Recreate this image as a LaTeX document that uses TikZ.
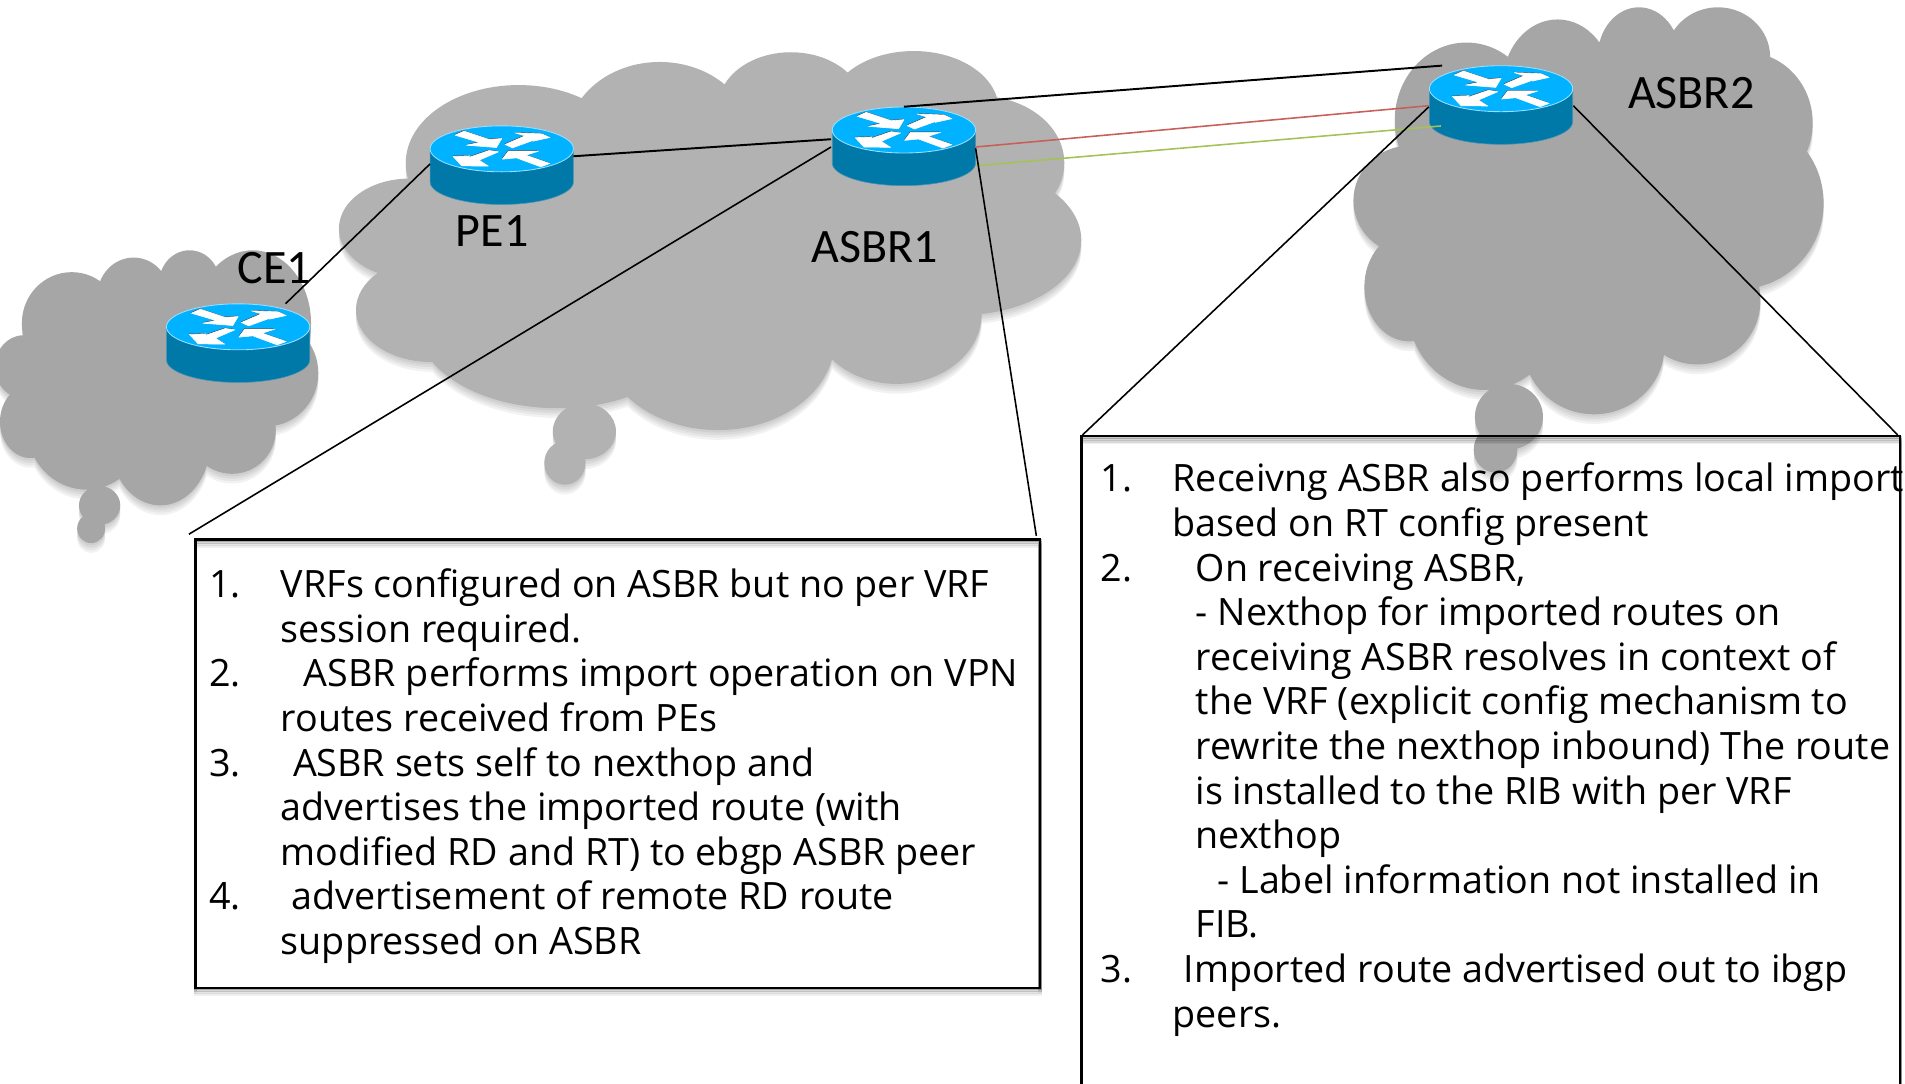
\documentclass[tikz,border=0pt]{standalone}
\usepackage{fontspec}
\usetikzlibrary{calc}
\setmainfont{Carlito}
\newfontfamily\notefont{Open Sans}
\definecolor{cloudA}{HTML}{A6A6A6}
\definecolor{cloudB}{HTML}{B2B2B2}
\definecolor{rtop}{HTML}{00B2FF}
\definecolor{rside}{HTML}{0078A8}
\definecolor{redlink}{HTML}{C8605A}
\definecolor{greenlink}{HTML}{A4C257}
\tikzset{
  link/.style={black,line width=1.3pt},
  routernode/.style={inner sep=0pt,minimum width=118pt,minimum height=64.7pt},
  notebox/.style={draw=black,line width=2pt,inner sep=0pt},
  notetext/.style={anchor=north west,inner sep=0pt,align=left,font={\notefont\fontsize{31}{36.7}\selectfont}},
  routerlabel/.style={inner sep=0pt,font={\fontsize{39.5}{39.5}\selectfont}},
}
\newcommand{\nm}[1]{\makebox[59pt][l]{#1}}
\newcommand{\ind}[1]{\hspace*{#1pt}}
\def\cloudL{
 (59,266) ellipse [x radius=41,y radius=42]
 (110,244) ellipse [x radius=30,y radius=32]
 (156,233) ellipse [x radius=25,y radius=27]
 (208,266) ellipse [x radius=48,y radius=60]
 (219,307) ellipse [x radius=43,y radius=44]
 (191,354) ellipse [x radius=36,y radius=36]
 (132,365) ellipse [x radius=41,y radius=51]
 (71,351) ellipse [x radius=49,y radius=52]
 (25,347) ellipse [x radius=25,y radius=30]
 (19,302) ellipse [x radius=23,y radius=26]
 (132,307) ellipse [x radius=96,y radius=69]
 (82,416) ellipse [x radius=17,y radius=16]
 (75,435) ellipse [x radius=11.5,y radius=12]
}
\def\cloudM{
 (427,134) ellipse [x radius=93,y radius=64]
 (543,115) ellipse [x radius=76,y radius=64]
 (651,88) ellipse [x radius=60,y radius=45]
 (752,90) ellipse [x radius=70,y radius=48]
 (806,134) ellipse [x radius=70,y radius=55]
 (790,197.5) ellipse [x radius=100,y radius=62]
 (738,258) ellipse [x radius=70,y radius=58]
 (591,280) ellipse [x radius=96,y radius=74]
 (459,266) ellipse [x radius=116,y radius=70]
 (355,255) ellipse [x radius=62,y radius=43]
 (337,188) ellipse [x radius=58,y radius=41]
 (590,190) ellipse [x radius=240,y radius=100]
 (481,355) ellipse [x radius=26,y radius=23]
 (465,381) ellipse [x radius=17,y radius=18]
}
\def\cloudR{
 (1207,99) ellipse [x radius=59,y radius=64]
 (1282,69) ellipse [x radius=45,y radius=53]
 (1349,47) ellipse [x radius=34,y radius=41]
 (1414,47) ellipse [x radius=43,y radius=41]
 (1437,101) ellipse [x radius=55,y radius=58]
 (1431,167) ellipse [x radius=70,y radius=71]
 (1397,247) ellipse [x radius=52,y radius=53]
 (1312,285) ellipse [x radius=58,y radius=56]
 (1222,255) ellipse [x radius=63,y radius=66]
 (1160,236) ellipse [x radius=37,y radius=45]
 (1160,165) ellipse [x radius=46,y radius=45]
 (1297,165) ellipse [x radius=149,y radius=123]
 (1242,343) ellipse [x radius=28,y radius=27]
 (1231,370) ellipse [x radius=18,y radius=19]
}
\def\routerarrows{
 (78,40) -- (105,28) -- (180,53) -- (218,50) -- (202,77) -- (112,70) -- (152,62) -- cycle
 (228,68) -- (288,42) -- (258,33) -- (338,36) -- (362,47) -- (312,58) -- (322,52) -- (250,78) -- cycle
 (180,86) -- (208,90) -- (150,115) -- (178,133) -- (98,132) -- (72,104) -- (122,102) -- (110,110) -- cycle
 (220,112) -- (238,88) -- (328,88) -- (290,100) -- (362,125) -- (335,135) -- (262,108) -- cycle
}
% router: #1 name, #2 x, #3 y of the centre of the top face
\newcommand{\router}[3]{%
  \begin{scope}[shift={(#2,#3)}]
  \begin{scope}[x=.2743pt,y=-.2743pt,shift={(-218,-81)}]
    \fill[rside,draw=gray!60!rtop,line width=.5pt] (3,81) -- (3,180) arc[start angle=180,end angle=0,x radius=215,y radius=68] -- (433,81) -- cycle;
    \fill[rtop,draw=white!60!rtop,line width=.7pt] (218,81) ellipse [x radius=215,y radius=69];
    \fill[black!75,xshift=-.4pt,yshift=.6pt] \routerarrows;
    \fill[white,draw=white,line width=.5pt,line join=round] \routerarrows;
  \end{scope}
  \node[routernode] (#1) at (0,13.4) {};
  \end{scope}}
\begin{document}
\begin{tikzpicture}[x=1pt,y=-1pt]
\useasboundingbox (0,0) rectangle (1568,892.2);
% clouds with soft shadows
\foreach \k in {2,4,6,8}{
  \fill[black,opacity=.05,yshift=-\k pt] \cloudL;
  \fill[black,opacity=.05,yshift=-\k pt] \cloudM;
  \fill[black,opacity=.05,yshift=-\k pt] \cloudR;
}
\fill[cloudA] \cloudL;
\fill[cloudB] \cloudM;
\fill[cloudA] \cloudR;
% routers
\router{ce1}{196}{269}
\router{pe1}{413}{122.5}
\router{asbr1}{744}{107}
\router{asbr2}{1235.5}{73}
% note boxes
\foreach \k/\o in {1/.22,2.5/.16,4/.1,5.5/.06}{
  \draw[black,line width=2.5pt,opacity=\o,yshift=-\k pt] (161,444) rectangle (856,813);
  \draw[black,line width=2.5pt,opacity=\o,yshift=-\k pt] (890,359) rectangle (1564,893);
}
\node[notebox,minimum width=695pt,minimum height=369pt] (leftbox) at (508.5,628.5) {};
\node[notebox,minimum width=674pt,minimum height=534pt] (rightbox) at (1227,626) {};
% free ends of the callout lines
\coordinate (lf) at (155.5,439.7);
\coordinate (lg) at (853,441);
\coordinate (rf) at (891,358);
\coordinate (rg) at (1562,358);
% links
\draw[link] ($(ce1.center)+(39,-32.4)$) -- ($(pe1.center)+(-59,-1)$);
\draw[link,line width=1.6pt] ($(pe1.center)+(59,-7.3)$) -- ($(asbr1.center)+(-60,-5.8)$);
\draw[link,line width=1.6pt] (asbr1.north) -- ($(asbr2.center)+(-48.5,-32.4)$);
\draw[redlink,line width=1.3pt] ($(asbr1.center)+(59,.6)$) -- ($(asbr2.center)+(-59.5,.6)$);
\draw[greenlink,line width=1.3pt] ($(asbr1.center)+(59.5,16)$) -- ($(asbr2.center)+(-49.5,17.3)$);
\draw[link] ($(asbr1.center)+(-60,.6)$) -- (lf);
\draw[link] ($(asbr1.center)+(59,1.6)$) -- (lg);
\draw[link] ($(asbr2.center)+(-59.5,1.6)$) -- (rf);
\draw[link] ($(asbr2.center)+(59.5,.6)$) -- (rg);
% labels
\node[routerlabel] (lce1) at (226,221) {CE1};
\node[routerlabel] (lpe1) at (405,190) {PE1};
\node[routerlabel] (lasbr1) at (720,203) {ASBR1};
\node[routerlabel] (lasbr2) at (1392,77) {ASBR2};
% notes
\node[notetext] (leftnote) at (172,468) {%
\nm{1.}VRFs configured on ASBR but no per VRF\\
\ind{59}session required.\\
\nm{2.}\ind{19}ASBR performs import operation on VPN\\
\ind{59}routes received from PEs\\
\nm{3.}\ind{10}ASBR sets self to nexthop and\\
\ind{59}advertises the imported route (with\\
\ind{59}modified RD and RT) to ebgp ASBR peer\\
\nm{4.}\ind{9}advertisement of remote RD route\\
\ind{59}suppressed on ASBR};
\node[notetext] (rightnote) at (906,381) {%
\nm{1.}Receivng ASBR also performs local import\\
\ind{59}based on RT config present\\
\nm{2.}\ind{19}On receiving ASBR,\\
\ind{78}- Nexthop for imported routes on\\
\ind{78}receiving ASBR resolves in context of\\
\ind{78}the VRF (explicit config mechanism to\\
\ind{78}rewrite the nexthop inbound) The route\\
\ind{78}is installed to the RIB with per VRF\\
\ind{78}nexthop\\
\ind{96}- Label information not installed in\\
\ind{78}FIB.\\
\nm{3.}\ind{9}Imported route advertised out to ibgp\\
\ind{59}peers.};
\end{tikzpicture}
\end{document}
